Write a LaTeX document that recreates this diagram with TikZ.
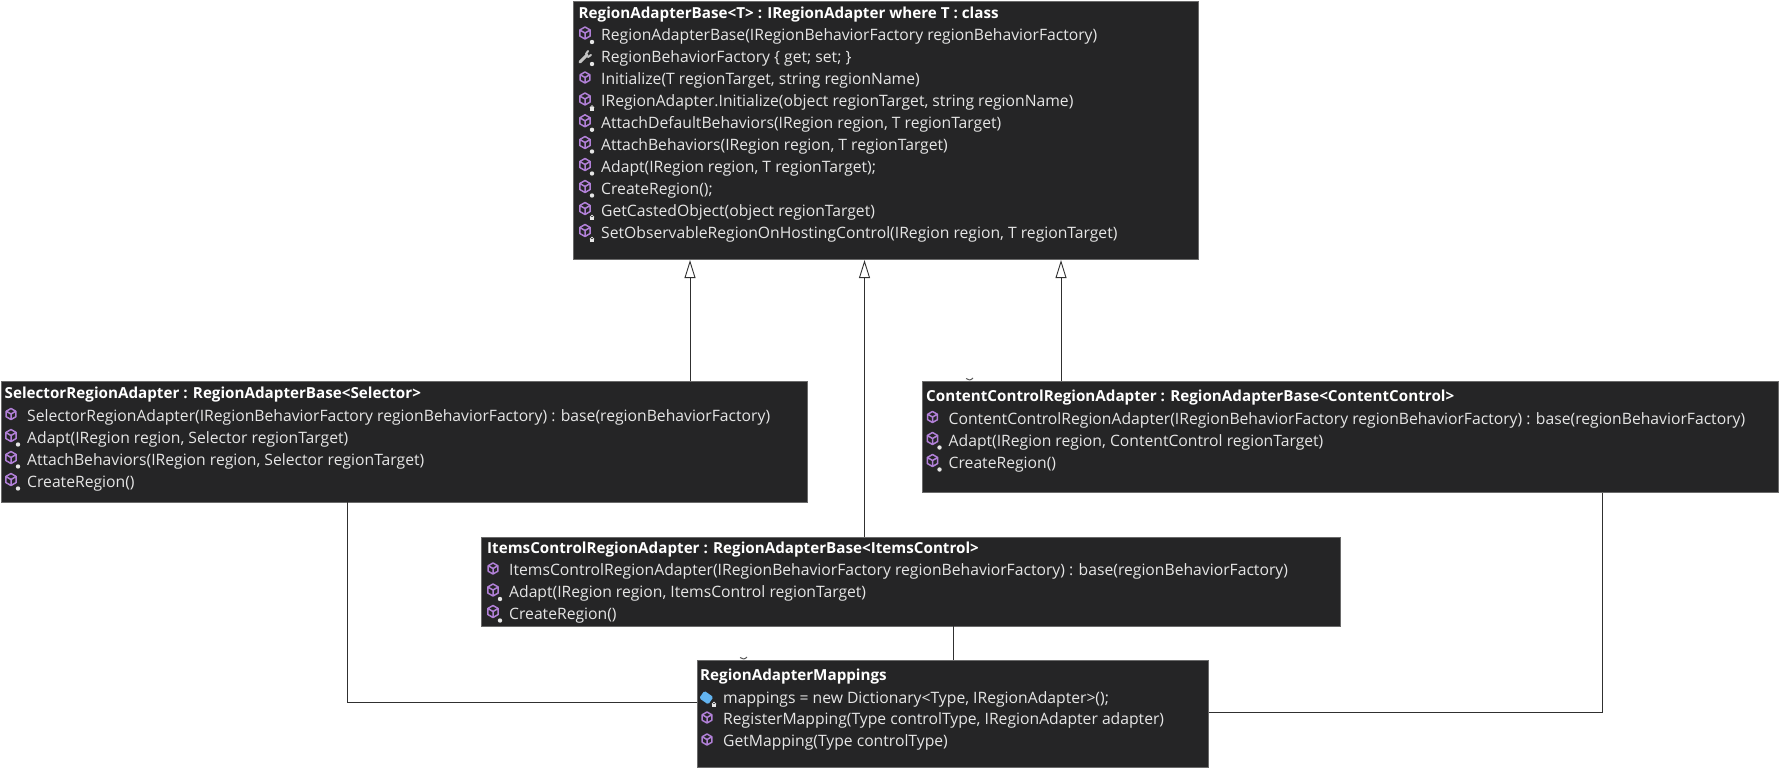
\documentclass[tikz,border=0pt]{standalone}
\usepackage{fontspec}
\setmainfont{Open Sans}
\usetikzlibrary{arrows.meta}

\definecolor{boxfill}{HTML}{252526}
\definecolor{boxline}{HTML}{6A6A6A}
\definecolor{rowcolor}{HTML}{E6E6E6}
\definecolor{methodcolor}{HTML}{B180D7}
\definecolor{fieldcolor}{HTML}{63B4F0}
\definecolor{linkcolor}{HTML}{303030}

\tikzset{
  classbox/.style={draw=boxline, fill=boxfill, line width=.8pt, anchor=north west, inner sep=0pt},
  classtitle/.style={anchor=base west, inner sep=0pt, text=white, font=\fontsize{15.2}{17}\selectfont\bfseries},
  rowtext/.style={anchor=base west, inner sep=0pt, text=rowcolor, font=\fontsize{15.7}{18}\selectfont},
  link/.style={draw=linkcolor, line width=.9pt},
  inherit/.style={link, -{Triangle[open, fill=white, length=18pt, width=11pt]}},
  scrap/.style={draw=linkcolor!80, line width=1pt},
  cube/.pic={
    \draw[methodcolor, line width=1.5pt, line join=round]
      (0,-6) -- (5.2,-3) -- (5.2,3) -- (0,6) -- (-5.2,3) -- (-5.2,-3) -- cycle
      (-5.2,-3) -- (0,0) -- (5.2,-3) (0,0) -- (0,6);
  },
  starbadge/.pic={
    \fill[rowcolor] (0,0) circle (2.2pt);
  },
  lockbadge/.pic={
    \fill[rowcolor] (-2.4,-.6) rectangle (2.4,2.8);
    \draw[rowcolor, line width=.8pt] (0,-.6) circle (1.8pt);
  },
  plain/.pic={\pic[scale=.92] at (0,-1.5) {cube};},
  star/.pic={\pic at (0,-2) {cube}; \pic at (7,7) {starbadge};},
  lock/.pic={\pic at (0,-2) {cube}; \pic at (7,7) {lockbadge};},
  wrench/.pic={
    \draw[rowcolor!85!black, line width=3pt, line cap=round] (-5,5) -- (2,-2);
    \draw[rowcolor!85!black, line width=2pt, line cap=round] (1,-3) -- (3,-6) (3,0) -- (6,-2);
    \pic at (7,7) {starbadge};
  },
  field/.pic={
    \fill[fieldcolor, rotate=-35, rounded corners=1.5pt] (-6,-4) rectangle (5,5);
    \pic at (7,7) {lockbadge};
  },
}

% une ligne de membre : nom, x, y, icone, texte
\newcommand{\rowmember}[5]{%
  \node[rowtext] (#1) at (#2,#3) {#5};
  \pic at ([xshift=-16pt,yshift=5.5pt]#1.base west) {#4};
}

\begin{document}
\begin{tikzpicture}[x=1pt, y=-1pt]
    \useasboundingbox (0,0) rectangle (1779,768);
    % boites
    \node[classbox, minimum width=625pt, minimum height=258.5pt] (basebox) at (572.5,0.8) {};
    \node[classbox, minimum width=806pt, minimum height=120.5pt] (selectorbox) at (1,381) {};
    \node[classbox, minimum width=855.5pt, minimum height=111pt] (contentbox) at (922,381) {};
    \node[classbox, minimum width=859pt, minimum height=89pt] (itemsbox) at (481,536.5) {};
    \node[classbox, minimum width=511pt, minimum height=107pt] (mappingsbox) at (697,660) {};
    % points de passage
    \coordinate (selup) at (690,0);
    \coordinate (itemsup) at (864.5,0);
    \coordinate (contentup) at (1061,0);
    \coordinate (seldown) at (347,702);
    \coordinate (itemsdown) at (953,0);
    \coordinate (contentdown) at (1602,712.5);
    % liaisons
    \draw[inherit] (selup |- selectorbox.north) -- (selup |- basebox.south);
    \draw[inherit] (itemsup |- itemsbox.north) -- (itemsup |- basebox.south);
    \draw[inherit] (contentup |- contentbox.north) -- (contentup |- basebox.south);
    \draw[link] (seldown |- selectorbox.south) -- (seldown) -- (seldown -| mappingsbox.west);
    \draw[link] (itemsdown |- itemsbox.south) -- (itemsdown |- mappingsbox.north);
    \draw[link] (contentdown |- contentbox.south) -- (contentdown) -- (contentdown -| mappingsbox.east);
    % restes de texte au-dessus des boites
    \draw[scrap] (966,378.5) .. controls (968,380.5) and (971,380.5) .. (973,378);
    \draw[scrap] (740,657.5) .. controls (742,659.5) and (745,659.5) .. (747,657);
    % RegionAdapterBase
    \node[classtitle] (basetitle) at (578.5,18.3) {RegionAdapterBase<T> : IRegionAdapter where T : class};
    \rowmember{basea}{601}{40.5}{star}{RegionAdapterBase(IRegionBehaviorFactory regionBehaviorFactory)}
    \rowmember{baseb}{601}{62.5}{wrench}{RegionBehaviorFactory \{ get; set; \}}
    \rowmember{basec}{601}{84.5}{plain}{Initialize(T regionTarget, string regionName)}
    \rowmember{based}{601}{106.5}{lock}{IRegionAdapter.Initialize(object regionTarget, string regionName)}
    \rowmember{basee}{601}{128.3}{star}{AttachDefaultBehaviors(IRegion region, T regionTarget)}
    \rowmember{basef}{601}{150}{star}{AttachBehaviors(IRegion region, T regionTarget)}
    \rowmember{baseg}{601}{172}{star}{Adapt(IRegion region, T regionTarget);}
    \rowmember{baseh}{601}{194}{star}{CreateRegion();}
    \rowmember{basei}{601}{216}{lock}{GetCastedObject(object regionTarget)}
    \rowmember{basej}{601}{238}{lock}{SetObservableRegionOnHostingControl(IRegion region, T regionTarget)}
    % SelectorRegionAdapter
    \node[classtitle] (seltitle) at (4.5,398.5) {SelectorRegionAdapter : RegionAdapterBase<Selector>};
    \rowmember{sela}{27}{421}{plain}{SelectorRegionAdapter(IRegionBehaviorFactory regionBehaviorFactory) : base(regionBehaviorFactory)}
    \rowmember{selb}{27}{443}{star}{Adapt(IRegion region, Selector regionTarget)}
    \rowmember{selc}{27}{465}{star}{AttachBehaviors(IRegion region, Selector regionTarget)}
    \rowmember{seld}{27}{487}{star}{CreateRegion()}
    % ContentControlRegionAdapter
    \node[classtitle] (contenttitle) at (926,401.5) {ContentControlRegionAdapter : RegionAdapterBase<ContentControl>};
    \rowmember{contenta}{948.5}{424}{plain}{ContentControlRegionAdapter(IRegionBehaviorFactory regionBehaviorFactory) : base(regionBehaviorFactory)}
    \rowmember{contentb}{948.5}{446}{star}{Adapt(IRegion region, ContentControl regionTarget)}
    \rowmember{contentc}{948.5}{468}{star}{CreateRegion()}
    % ItemsControlRegionAdapter
    \node[classtitle] (itemstitle) at (487,553) {ItemsControlRegionAdapter : RegionAdapterBase<ItemsControl>};
    \rowmember{itemsa}{509}{575.5}{plain}{ItemsControlRegionAdapter(IRegionBehaviorFactory regionBehaviorFactory) : base(regionBehaviorFactory)}
    \rowmember{itemsb}{509}{597.5}{star}{Adapt(IRegion region, ItemsControl regionTarget)}
    \rowmember{itemsc}{509}{619}{star}{CreateRegion()}
    % RegionAdapterMappings
    \node[classtitle] (mappingstitle) at (700,680.5) {RegionAdapterMappings};
    \rowmember{mappingsa}{723}{703}{field}{mappings = new Dictionary<Type, IRegionAdapter>();}
    \rowmember{mappingsb}{723}{724.5}{plain}{RegisterMapping(Type controlType, IRegionAdapter adapter)}
    \rowmember{mappingsc}{723}{746.5}{plain}{GetMapping(Type controlType)}
  \end{tikzpicture}
\end{document}
